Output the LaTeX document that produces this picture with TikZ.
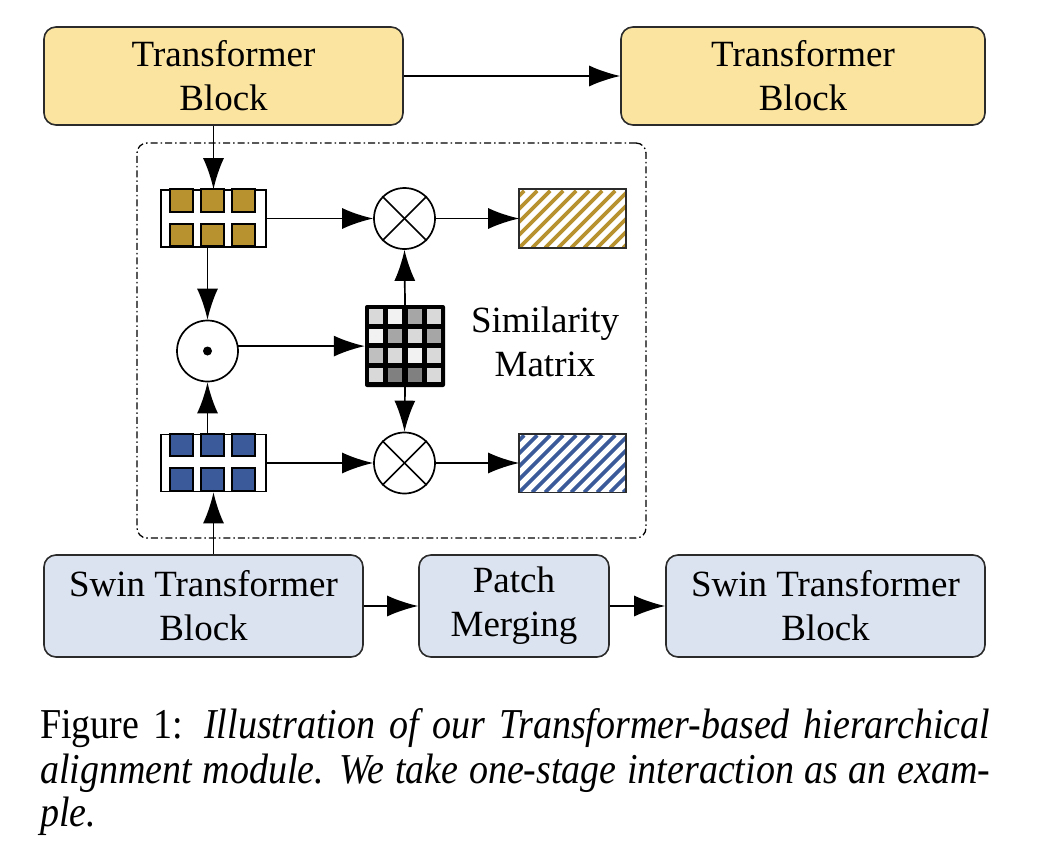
\documentclass[tikz,border=0pt]{standalone}
\usepackage{fontspec}
\usepackage{graphicx}
\setmainfont{Liberation Serif}
\usetikzlibrary{arrows.meta,calc}
\definecolor{yfill}{HTML}{FBE4A0}
\definecolor{bfill}{HTML}{DCE3F0}
\definecolor{linec}{HTML}{2B2B2B}
\definecolor{goldc}{HTML}{B8922F}
\definecolor{bluec}{HTML}{3A5A99}
\definecolor{ga}{HTML}{F2F2F2}
\definecolor{gb}{HTML}{D9D9D9}
\definecolor{gc}{HTML}{BFBFBF}
\definecolor{gd}{HTML}{A6A6A6}
\definecolor{ge}{HTML}{808080}
\tikzset{
  blk/.style={draw=linec, line width=1.6pt, rounded corners=12pt, inner sep=0pt, align=center, font=\fontsize{37}{44}\selectfont},
  ybox/.style={blk, fill=yfill},
  bbox/.style={blk, fill=bfill},
  arr/.style={-{Latex[length=31pt,width=21pt]}, line width=1.7pt},
  op/.style={circle, draw=black, line width=1.7pt, minimum size=61pt, inner sep=0pt, fill=white},
  tokbox/.style={draw=black, line width=1.7pt, fill=white, minimum width=105pt, minimum height=57pt, inner sep=0pt},
  tok/.style={draw=black, line width=1.7pt},
  hatchbox/.style={draw=linec, line width=1.7pt, minimum width=105pt, minimum height=57pt, inner sep=0pt},
  framebox/.style={draw=black, line width=1.3pt, rounded corners=10pt, dash pattern=on 7pt off 3pt on 1.5pt off 3pt, minimum width=509pt, minimum height=395pt, inner sep=0pt},
  captext/.style={anchor=base west, inner sep=0pt, font=\fontsize{38}{40}\selectfont},
  lbl/.style={align=center, inner sep=0pt, font=\fontsize{37}{44}\selectfont}
}
\begin{document}
\begin{tikzpicture}[x=1pt,y=-1pt]
\useasboundingbox (0,0) rectangle (1039,851);
% frame
\node[framebox] (frame) at (391.5,340.5) {};
% top blocks
\node[ybox, minimum width=359pt, minimum height=98pt] (tb1) at (223.5,76) {Transformer\\Block};
\node[ybox, minimum width=364pt, minimum height=98pt] (tb2) at (803,76) {Transformer\\Block};
% bottom blocks
\node[bbox, minimum width=319pt, minimum height=102pt] (sw1) at (203.5,606) {Swin Transformer\\Block};
\node[bbox, minimum width=190pt, minimum height=102pt] (pm) at (514,606) {Patch\\Merging};
\node[bbox, minimum width=319pt, minimum height=102pt] (sw2) at (825.5,606) {Swin Transformer\\Block};
% token boxes
\node[tokbox] (tg) at (213.5,218.5) {};
\node[tokbox] (tbl) at (213.5,463) {};
\foreach \nm/\cc in {tg/goldc, tbl/bluec}{
  \begin{scope}[shift={(\nm.north west)}]
    \foreach \xx in {10,41,72}{
      \foreach \yy in {0,34.5}{
        \draw[tok, fill=\cc] (\xx,\yy) rectangle +(22.5,22.5);
      }
    }
  \end{scope}
}
% operators
\node[op] (ot) at (404.5,218.5) {};
\node[op] (ob) at (404.5,463) {};
\node[op] (od) at (207.5,351) {};
\foreach \nm in {ot,ob}{
  \draw[line width=1.7pt] (\nm.45) -- (\nm.225);
  \draw[line width=1.7pt] (\nm.135) -- (\nm.315);
}
\fill (od.center) circle (4.5pt);
% similarity matrix
\node[fill=black, rounded corners=2pt, minimum width=80pt, minimum height=82pt, inner sep=0pt] (mat) at (405,346) {};
\begin{scope}[shift={(mat.north west)}]
  \foreach \row/\cols in {0/{gb,ga,gd,gb}, 1/{ga,gd,gb,gd}, 2/{gc,gb,ga,gb}, 3/{gb,ge,ge,gb}}{
    \foreach \cl [count=\ci from 0] in \cols {
      \fill[\cl] (4.5+\ci*19.17, 4.5+\row*19.5) rectangle +(14,14.5);
    }
  }
\end{scope}
\node[lbl] (simlbl) at (545,342) {Similarity\\Matrix};
% hatched outputs
\node[hatchbox] (hg) at (572.5,218.5) {};
\node[hatchbox] (hb) at (572.5,463) {};
\foreach \nm/\cc in {hg/goldc, hb/bluec}{
  \begin{scope}
    \clip (\nm.north west) rectangle (\nm.south east);
    \fill[white] (\nm.north west) rectangle (\nm.south east);
    \foreach \k in {-5,...,9}{
      \draw[\cc, line width=3.6pt] ($(\nm.south west)+(\k*13,0)$) -- ++(57,-57);
    }
  \end{scope}
  \draw[line width=1.7pt, draw=linec] (\nm.north west) rectangle (\nm.south east);
}
% connectors
\draw[arr] (tb1.east) -- (tb2.west);
\draw[arr] (tg.north |- tb1.south) -- (tg.north);
\draw[arr] (tg.east) -- (ot.west);
\draw[arr] (ot.east) -- (hg.west);
\draw[arr] (od.north |- tg.south) -- (od.north);
\draw[arr] (od.south |- tbl.north) -- (od.south);
\draw[arr] (od.9) -- (od.9 -| mat.west);
\draw[arr] (mat.north) -- (ot.south);
\draw[arr] (mat.south) -- (ob.north);
\draw[arr] (tbl.east) -- (ob.west);
\draw[arr] (ob.east) -- (hb.west);
\draw[arr] (tbl.south |- sw1.north) -- (tbl.south);
\draw[arr] (sw1.east) -- (pm.west);
\draw[arr] (pm.east) -- (sw2.west);
% caption
\node[captext] (cap1) at (40,738) {\scalebox{1}[1.12]{\makebox[950pt][s]{Figure 1: \textit{Illustration of our Transformer-based hierarchical}}}};
\node[captext] (cap2) at (40,783) {\scalebox{1}[1.12]{\makebox[950pt][s]{\textit{alignment module. We take one-stage interaction as an exam-}}}};
\node[captext] (cap3) at (40,826) {\scalebox{1}[1.12]{\textit{ple.}}};
\end{tikzpicture}
\end{document}
